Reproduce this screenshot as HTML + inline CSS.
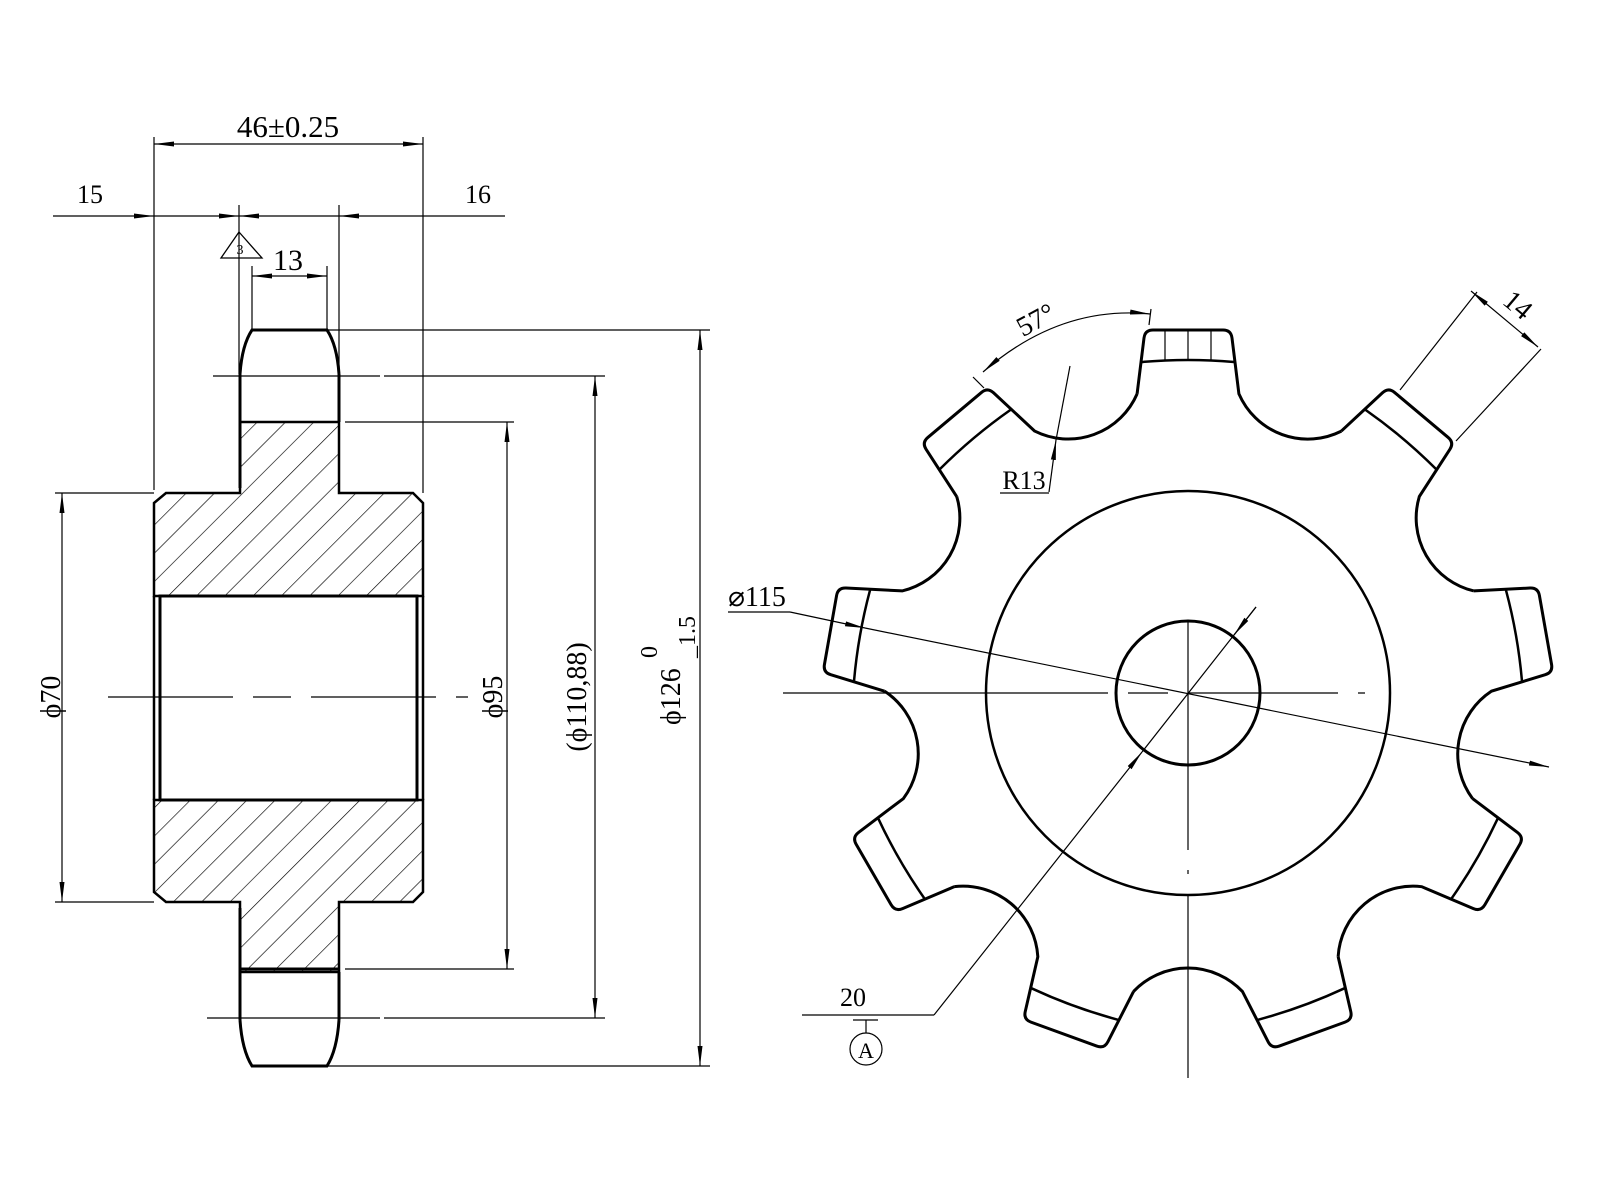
<!DOCTYPE html>
<html><head><meta charset="utf-8"><style>
html,body{margin:0;padding:0;background:#fff;}
svg{display:block;}
text{font-family:"Liberation Serif",serif;fill:#000;}
</style></head><body>
<svg width="1600" height="1200" viewBox="0 0 1600 1200" xmlns="http://www.w3.org/2000/svg">
<defs>
<pattern id="h" patternUnits="userSpaceOnUse" width="20" height="20" patternTransform="rotate(45)">
<line x1="0" y1="0" x2="0" y2="20" stroke="#000" stroke-width="1.3"/>
</pattern>
<marker id="a" viewBox="0 0 20 6" refX="20" refY="3" markerWidth="20" markerHeight="6" markerUnits="userSpaceOnUse" orient="auto-start-reverse">
<path d="M0,0.5 L20,3 L0,5.5 z" fill="#000"/>
</marker>
</defs>
<g fill="none" stroke="#000" stroke-width="1.2">
<line x1="154" y1="144" x2="423" y2="144" marker-start="url(#a)" marker-end="url(#a)"/>
<line x1="154" y1="137" x2="154" y2="490"/>
<line x1="423" y1="137" x2="423" y2="493"/>
<line x1="53" y1="216" x2="154" y2="216" marker-end="url(#a)"/>
<line x1="154" y1="216" x2="239" y2="216" marker-end="url(#a)"/>
<line x1="505" y1="216" x2="339" y2="216" marker-end="url(#a)"/>
<line x1="339" y1="216" x2="239" y2="216" marker-end="url(#a)"/>
<line x1="239" y1="205" x2="239" y2="374"/>
<line x1="339" y1="205" x2="339" y2="374"/>
<path d="M239,232 L221,258 L262,258 Z" stroke-width="1.3"/>
<line x1="252" y1="276" x2="327" y2="276" marker-start="url(#a)" marker-end="url(#a)"/>
<line x1="252" y1="266" x2="252" y2="330"/>
<line x1="327" y1="266" x2="327" y2="330"/>
<line x1="327" y1="330" x2="710" y2="330"/>
<line x1="213" y1="376" x2="380" y2="376"/><line x1="384" y1="376" x2="605" y2="376"/>
<line x1="345" y1="422" x2="514" y2="422"/>
<line x1="345" y1="969" x2="514" y2="969"/>
<line x1="207" y1="1018" x2="380" y2="1018"/><line x1="384" y1="1018" x2="605" y2="1018"/>
<line x1="327" y1="1066" x2="710" y2="1066"/>
<line x1="55" y1="493" x2="154" y2="493"/>
<line x1="55" y1="902" x2="154" y2="902"/>
<line x1="62" y1="493" x2="62" y2="902" marker-start="url(#a)" marker-end="url(#a)"/>
<line x1="507" y1="422" x2="507" y2="969" marker-start="url(#a)" marker-end="url(#a)"/>
<line x1="595" y1="376" x2="595" y2="1018" marker-start="url(#a)" marker-end="url(#a)"/>
<line x1="700" y1="330" x2="700" y2="1066" marker-start="url(#a)" marker-end="url(#a)"/>
</g>
<g stroke="#000" stroke-width="3" fill="none">
<path d="M240,422 L339,422 L339,493 L413,493 L423,503 L423,596 L154,596 L154,503 L166,493 L240,493 Z" fill="url(#h)" stroke-width="2.5"/>
<path d="M240,972 L339,972 L339,902 L413,902 L423,892 L423,800 L154,800 L154,892 L166,902 L240,902 Z" fill="url(#h)" stroke-width="2.5"/>
<rect x="160" y="596" width="257" height="204" fill="#fff"/>
<line x1="154" y1="596" x2="154" y2="800" stroke-width="2.5"/>
<line x1="423" y1="596" x2="423" y2="800" stroke-width="2.5"/>
<line x1="240" y1="374" x2="240" y2="488"/>
<line x1="339" y1="374" x2="339" y2="422"/>
<path d="M240,374 Q242,345 252,330 L327,330 Q337,345 339,374"/>
<line x1="240" y1="908" x2="240" y2="1020"/>
<line x1="339" y1="972" x2="339" y2="1020"/>
<path d="M240,1020 Q242,1050 252,1066 L327,1066 Q337,1050 339,1020"/>
<line x1="240" y1="969" x2="339" y2="969"/>
</g>
<line x1="108" y1="697" x2="468" y2="697" stroke="#000" stroke-width="1.2" stroke-dasharray="125 20 38 20"/>
<g>
<text x="288" y="137" font-size="31" text-anchor="middle">46±0.25</text>
<text x="90" y="203" font-size="26" text-anchor="middle">15</text>
<text x="478" y="203" font-size="26" text-anchor="middle">16</text>
<text x="240" y="254" font-size="14" text-anchor="middle">3</text>
<text x="288" y="270" font-size="30" text-anchor="middle">13</text>
<text transform="translate(60,697) rotate(-90)" font-size="28" text-anchor="middle">ϕ70</text>
<text transform="translate(502,697) rotate(-90)" font-size="28" text-anchor="middle">ϕ95</text>
<text transform="translate(586,697) rotate(-90)" font-size="28" text-anchor="middle">(ϕ110,88)</text>
<text transform="translate(680,725) rotate(-90)" font-size="28">ϕ126</text>
<text transform="translate(657,658) rotate(-90)" font-size="24">0</text>
<text transform="translate(695,658) rotate(-90)" font-size="24">_1.5</text>
</g>
<g fill="none" stroke="#000">
<g transform="translate(1188,693)" stroke-width="3">
<g id="s">
<path d="M-50.9,-299.2 L-44,-355 Q-43,-363 -35,-363 L35,-363 Q43,-363 44,-355 L50.9,-299.2 A75 75 0 0 0 153.4,-261.9"/>
<path d="M-46,-331 Q0,-335 46,-331" stroke-width="2.5"/>
</g>
<use href="#s" transform="rotate(40)"/>
<use href="#s" transform="rotate(80)"/>
<use href="#s" transform="rotate(120)"/>
<use href="#s" transform="rotate(160)"/>
<use href="#s" transform="rotate(200)"/>
<use href="#s" transform="rotate(240)"/>
<use href="#s" transform="rotate(280)"/>
<use href="#s" transform="rotate(320)"/>
<line x1="-23" y1="-363" x2="-23" y2="-332" stroke-width="1.2"/>
<line x1="0" y1="-363" x2="0" y2="-333" stroke-width="1.2"/>
<line x1="23" y1="-363" x2="23" y2="-332" stroke-width="1.2"/>
<circle r="202" stroke-width="2.5"/>
<circle r="72" stroke-width="3"/>
</g>
<g stroke-width="1.2">
<line x1="783" y1="693" x2="1365" y2="693" stroke-dasharray="325 20 40 20 150 20 40 20"/>
<line x1="1188" y1="620" x2="1188" y2="1078" stroke-dasharray="230 20 4 20 300"/>
<line x1="728" y1="612" x2="790" y2="612"/>
<line x1="790" y1="612" x2="865" y2="628" marker-end="url(#a)"/>
<line x1="865" y1="628" x2="1549" y2="767" marker-end="url(#a)"/>
<line x1="802" y1="1015" x2="934" y2="1015"/>
<line x1="934" y1="1015" x2="1142" y2="752" marker-end="url(#a)"/>
<line x1="1142" y1="752" x2="1256" y2="607"/>
<line x1="1256" y1="607" x2="1234" y2="635" marker-end="url(#a)"/>
<line x1="853" y1="1020" x2="878" y2="1020"/>
<line x1="866" y1="1020" x2="866" y2="1033"/>
<circle cx="866" cy="1049" r="16"/>
<path d="M983,372 Q1060,305 1150,314" marker-start="url(#a)" marker-end="url(#a)"/>
<line x1="973" y1="377" x2="984" y2="388"/>
<line x1="1151" y1="309" x2="1149" y2="325"/>
<line x1="1070" y1="366" x2="1056" y2="440"/>
<line x1="1049" y1="492" x2="1056" y2="440" marker-end="url(#a)"/>
<line x1="1000" y1="493" x2="1049" y2="493"/>
<line x1="1400" y1="390" x2="1477" y2="292"/>
<line x1="1456" y1="441" x2="1541" y2="349"/>
<line x1="1471" y1="291" x2="1538" y2="347" marker-start="url(#a)" marker-end="url(#a)"/>
</g>
</g>
<g>
<text x="757" y="606" font-size="28" text-anchor="middle">⌀115</text>
<text x="853" y="1006" font-size="26" text-anchor="middle">20</text>
<text x="866" y="1058" font-size="22" text-anchor="middle">A</text>
<text transform="translate(1040,328) rotate(-28)" font-size="28" text-anchor="middle">57°</text>
<text x="1024" y="489" font-size="26" text-anchor="middle">R13</text>
<text transform="translate(1512,312) rotate(40)" font-size="28" text-anchor="middle">14</text>
</g>
</svg>
</body></html>
